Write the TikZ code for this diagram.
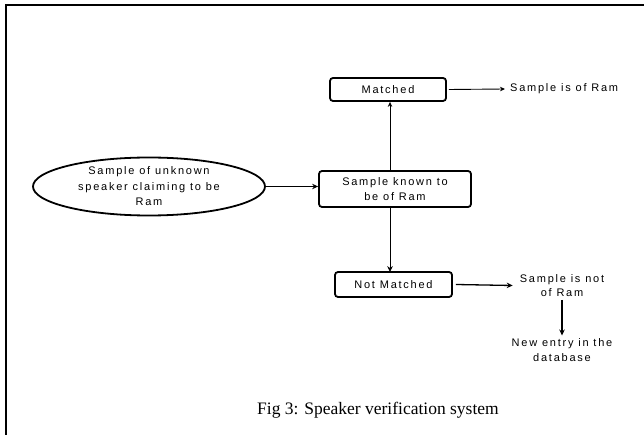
\documentclass[tikz,border=0pt]{standalone}
\usepackage{fontspec}
\usetikzlibrary{shapes.geometric,arrows.meta}
\newfontfamily\diagfont[LetterSpace=16]{Liberation Sans}
\newfontfamily\capfont{Liberation Serif}
\begin{document}
\begin{tikzpicture}[x=1pt,y=-1pt,
  box/.style={draw,line width=1.8pt,rounded corners=3pt,inner sep=0pt,font=\diagfont\fontsize{11}{15}\selectfont,align=center},
  txt/.style={inner sep=0pt,font=\diagfont\fontsize{11}{14.5}\selectfont,align=center},
  arr/.style={-{Stealth[length=5pt,width=4.5pt]},line width=0.9pt},
  tarr/.style={-{Stealth[length=6pt,width=5.5pt]},line width=1.3pt},
  darr/.style={-{Stealth[length=6pt,width=5.5pt]},line width=1pt}]
\useasboundingbox (0,0) rectangle (644,435);
\draw[line width=2pt] (6,435) -- (6,5) -- (644,5);
\node[draw,ellipse,line width=1.8pt,minimum width=232pt,minimum height=58pt,inner sep=0pt,
  font=\diagfont\fontsize{11}{15.5}\selectfont,align=center] (ell) at (149,186.5)
  {Sample of unknown\\speaker claiming to be\\Ram};
\node[box,minimum width=152pt,minimum height=36pt] (known) at (395,189) {Sample known to\\be of Ram};
\node[box,minimum width=116pt,minimum height=23pt] (matched) at (388,89.5) {Matched};
\node[box,minimum width=117pt,minimum height=25pt] (notm) at (393.5,284.5) {Not Matched};
\node[txt,anchor=west] (sofram) at (510,89) {Sample is of Ram};
\node[txt] (snot) at (562,285.5) {Sample is not\\of Ram};
\node[txt] (newe) at (562,350) {New entry in the\\database};
\node[font=\capfont\fontsize{17.5}{20}\selectfont] (cap) at (378,410) {Fig 3: Speaker verification system};
\coordinate (v) at (390,0);
\draw[tarr] (ell.east) -- (ell.east -| known.west);
\draw[arr] (known.north -| v) -- (matched.south -| v);
\draw[darr] (known.south -| v) -- ([yshift=-1pt]notm.north -| v);
\draw[arr] ([xshift=2pt]matched.east) -- ([xshift=-5pt]sofram.west);
\draw[tarr] ([xshift=3pt]notm.east) -- ([xshift=-7pt]snot.west);
\draw[tarr] ([yshift=-3pt]snot.south) -- ([yshift=3pt]newe.north);
\end{tikzpicture}
\end{document}
